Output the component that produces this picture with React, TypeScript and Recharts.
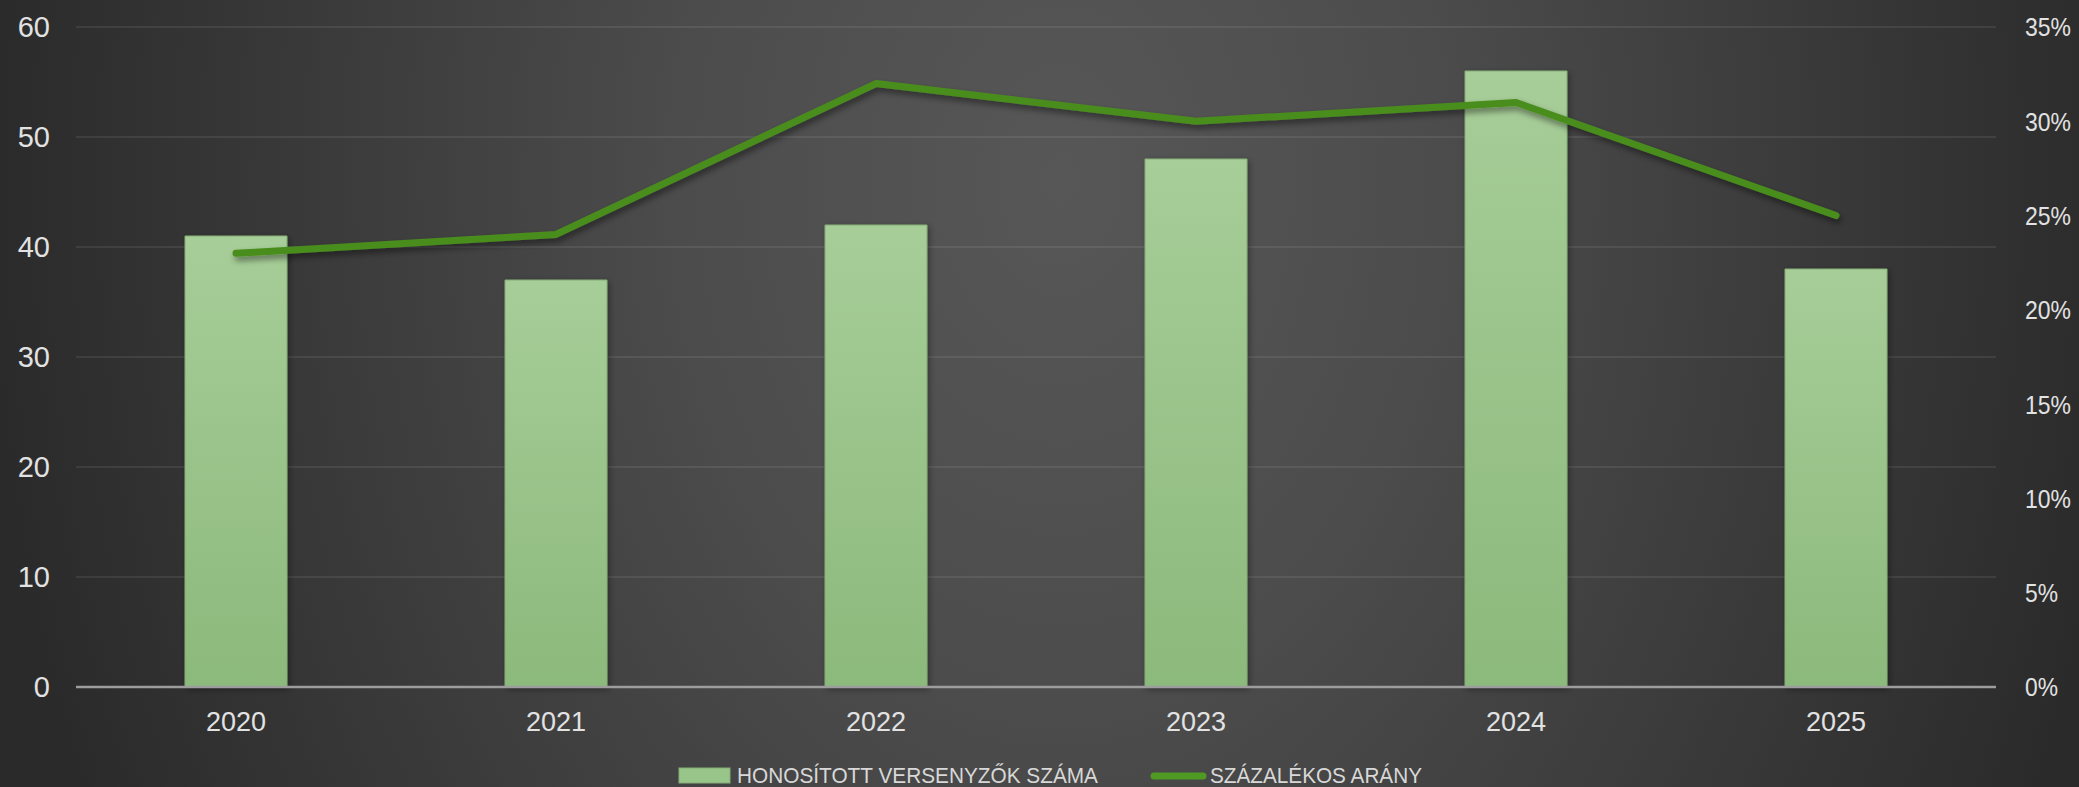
import React from 'react';
import { ComposedChart, Bar, Line, XAxis, YAxis, CartesianGrid } from 'recharts';

const categories = ['2020', '2021', '2022', '2023', '2024', '2025'];
const counts = [41, 37, 42, 48, 56, 38];
const shares = [0.23, 0.24, 0.32, 0.3, 0.31, 0.25];
const leftTicks = [0, 10, 20, 30, 40, 50, 60];
const rightTicks = [0, 0.05, 0.1, 0.15, 0.2, 0.25, 0.3, 0.35];
const barLabel = 'HONOSÍTOTT VERSENYZŐK SZÁMA';
const lineLabel = 'SZÁZALÉKOS ARÁNY';

const data = categories.map((c, i) => ({ year: c, count: counts[i], share: shares[i] }));

const W = 2079;
const H = 787;
const FONT = '"Liberation Sans", Arial, sans-serif';
const LINE_COLOR = '#4a8e1d';

const fmtPct = (v: number) => `${Math.round(v * 100)}%`;

function RightTick(props: any) {
  const { x, y, payload } = props;
  const label = fmtPct(payload.value);
  const len = label.length >= 3 ? 46 : 33;
  return (
    <text
      x={x}
      y={y}
      dy="0.36em"
      textAnchor="start"
      fill="#e2e2e2"
      fontSize={26}
      fontFamily={FONT}
      textLength={len}
      lengthAdjust="spacingAndGlyphs"
    >
      {label}
    </text>
  );
}

export default function App() {
  return (
    <div
      style={{
        position: 'absolute',
        left: 0,
        top: 0,
        width: W,
        height: H,
        overflow: 'hidden',
        background:
          'radial-gradient(ellipse 1080px 1500px at 1060px 180px, #575757 0%, #4c4c4c 35%, #2a2a2a 100%)',
      }}
    >
      <svg width={0} height={0} style={{ position: 'absolute' }}>
        <defs>
          <linearGradient id="barGrad" x1="0" y1="0" x2="0" y2="1">
            <stop offset="0%" stopColor="#a7cd98" />
            <stop offset="100%" stopColor="#8cb97c" />
          </linearGradient>
          <filter id="lineShadow" x="-10%" y="-50%" width="120%" height="200%">
            <feDropShadow dx="2" dy="4" stdDeviation="3" floodColor="#000" floodOpacity="0.45" />
          </filter>
          <filter id="barShadow" x="-20%" y="-10%" width="140%" height="120%">
            <feDropShadow dx="2" dy="2" stdDeviation="3" floodColor="#000" floodOpacity="0.35" />
          </filter>
        </defs>
      </svg>
      <ComposedChart
        width={W}
        height={H}
        data={data}
        margin={{ top: 27, right: 0, bottom: 0, left: 0 }}
      >
        <CartesianGrid
          yAxisId="left"
          vertical={false}
          stroke="#ffffff"
          strokeOpacity={0.08}
          strokeWidth={2}
        />
        <XAxis
          dataKey="year"
          height={100}
          tickLine={false}
          axisLine={{ stroke: '#9d9d9d', strokeWidth: 2.5 }}
          tickMargin={19}
          tick={{ fill: '#e2e2e2', fontSize: 27, fontFamily: FONT }}
          interval={0}
        />
        <YAxis
          yAxisId="left"
          orientation="left"
          width={76}
          domain={[0, 60]}
          ticks={leftTicks}
          axisLine={false}
          tickLine={false}
          tickMargin={20}
          tick={{ fill: '#e2e2e2', fontSize: 29, fontFamily: FONT }}
        />
        <YAxis
          yAxisId="right"
          orientation="right"
          width={83}
          domain={[0, 0.35]}
          ticks={rightTicks}
          axisLine={false}
          tickLine={false}
          tickMargin={23}
          tickFormatter={fmtPct}
          tick={<RightTick />}
        />
        <Bar
          yAxisId="left"
          dataKey="count"
          barSize={102}
          fill="url(#barGrad)"
          stroke="#84ad75"
          strokeWidth={1}
          filter="url(#barShadow)"
          isAnimationActive={false}
        />
        <Line
          yAxisId="right"
          dataKey="share"
          type="linear"
          stroke={LINE_COLOR}
          strokeWidth={7}
          strokeLinecap="round"
          strokeLinejoin="round"
          dot={false}
          activeDot={false}
          filter="url(#lineShadow)"
          isAnimationActive={false}
        />
      </ComposedChart>
      <svg
        width={W}
        height={47}
        style={{ position: 'absolute', left: 0, top: 740 }}
      >
        <rect x={679} y={28} width={51} height={15} fill="#98c589" stroke="#86ad77" strokeWidth={1} />
        <text
          x={737}
          y={43}
          fill="#d8d8d8"
          fontSize={22}
          fontFamily={FONT}
          textLength={361}
          lengthAdjust="spacingAndGlyphs"
        >
          {barLabel}
        </text>
        <line x1={1154} y1={36} x2={1203} y2={36} stroke="#4f9a22" strokeWidth={7} strokeLinecap="round" />
        <text
          x={1210}
          y={43}
          fill="#d8d8d8"
          fontSize={22}
          fontFamily={FONT}
          textLength={212}
          lengthAdjust="spacingAndGlyphs"
        >
          {lineLabel}
        </text>
      </svg>
    </div>
  );
}
